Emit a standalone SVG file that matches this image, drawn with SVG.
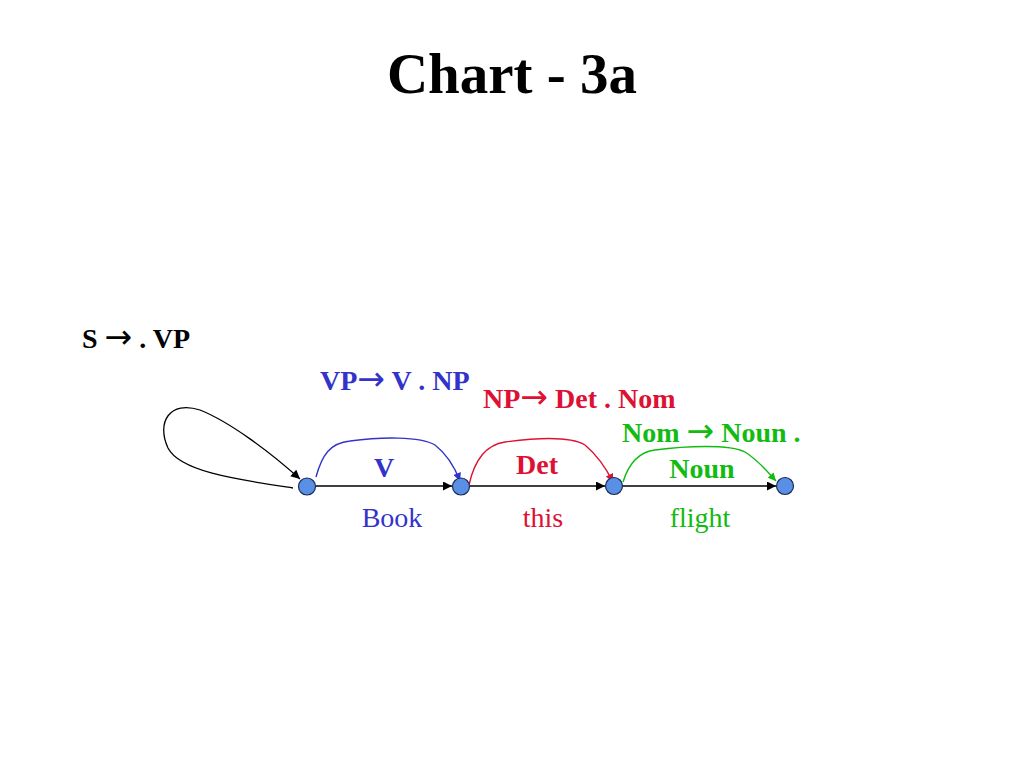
<svg xmlns="http://www.w3.org/2000/svg" width="1024" height="768" viewBox="0 0 1024 768">
<style>
text{font-family:"Liberation Serif","Times New Roman",serif}
.b{font-weight:bold}
.ar{font-family:"DejaVu Sans",sans-serif;font-size:33px;font-weight:normal}
.blue{fill:#3333CC}.red{fill:#DD1133}.green{fill:#11BB11}
.node{fill:#5A8FE6;stroke:#1A2A55;stroke-width:1.2}
.edge{fill:none;stroke:#000;stroke-width:1.3}
</style>
<defs>
<marker id="ak" viewBox="0 0 10 10" refX="10" refY="5" markerWidth="10" markerHeight="9" orient="auto" markerUnits="userSpaceOnUse"><path d="M0,0L10,5L0,10z" fill="#000"/></marker>
<marker id="ab" viewBox="0 0 10 10" refX="10" refY="5" markerWidth="9" markerHeight="8" orient="auto" markerUnits="userSpaceOnUse"><path d="M0,0L10,5L0,10z" fill="#3333CC"/></marker>
<marker id="ar" viewBox="0 0 10 10" refX="10" refY="5" markerWidth="9" markerHeight="8" orient="auto" markerUnits="userSpaceOnUse"><path d="M0,0L10,5L0,10z" fill="#DD1133"/></marker>
<marker id="ag" viewBox="0 0 10 10" refX="10" refY="5" markerWidth="9" markerHeight="8" orient="auto" markerUnits="userSpaceOnUse"><path d="M0,0L10,5L0,10z" fill="#11BB11"/></marker>
</defs>
<rect width="1024" height="768" fill="#fff"/>
<text x="512" y="93" text-anchor="middle" class="b" font-size="57">Chart - 3a</text>
<g id="connectors">
<path class="edge" d="M293,488 C240,480 180,472 168,448 C156,422 170,400 200,410 C230,422 270,452 300,479" marker-end="url(#ak)"/>
<path class="edge" d="M316,486 L452,486" marker-end="url(#ak)"/>
<path class="edge" d="M470,486 L605,486" marker-end="url(#ak)"/>
<path class="edge" d="M623,486 L776,486" marker-end="url(#ak)"/>
<path fill="none" stroke="#3333CC" stroke-width="1.4" d="M316,477 C322,455 330,443 350,441 C380,437 420,436 435,445 C448,455 455,468 460,481" marker-end="url(#ab)"/>
<path fill="none" stroke="#DD1133" stroke-width="1.4" d="M469,485 C474,462 484,445 505,442 C535,438 570,436 585,445 C598,456 606,468 613,482" marker-end="url(#ar)"/>
<path fill="none" stroke="#11BB11" stroke-width="1.4" d="M623,482 C628,466 638,452 655,450 C685,446 730,444 745,452 C758,460 766,470 776,481" marker-end="url(#ag)"/>
</g>
<g id="n1"><circle class="node" cx="307" cy="486.5" r="8.5"/></g>
<g id="n2"><circle class="node" cx="461" cy="486.5" r="8.5"/></g>
<g id="n3"><circle class="node" cx="614" cy="486" r="8.5"/></g>
<g id="n4"><circle class="node" cx="785" cy="486" r="8.5"/></g>
<g id="labels">
<text x="82" y="348" class="b" font-size="28">S <tspan class="ar">→</tspan> . VP</text>
<text x="320" y="390" class="b blue" font-size="28">VP<tspan class="ar">→</tspan> V . NP</text>
<text x="483" y="408" class="b red" font-size="28">NP<tspan class="ar">→</tspan> Det . Nom</text>
<text x="622" y="442" class="b green" font-size="28">Nom <tspan class="ar">→</tspan> Noun .</text>
<text x="384" y="477" text-anchor="middle" class="b blue" font-size="28">V</text>
<text x="537" y="474" text-anchor="middle" class="b red" font-size="28">Det</text>
<text x="702" y="478" text-anchor="middle" class="b green" font-size="28">Noun</text>
<text x="392" y="527" text-anchor="middle" class="blue" font-size="28">Book</text>
<text x="543" y="527" text-anchor="middle" class="red" font-size="28">this</text>
<text x="700" y="527" text-anchor="middle" class="green" font-size="28">flight</text>
</g>
</svg>
